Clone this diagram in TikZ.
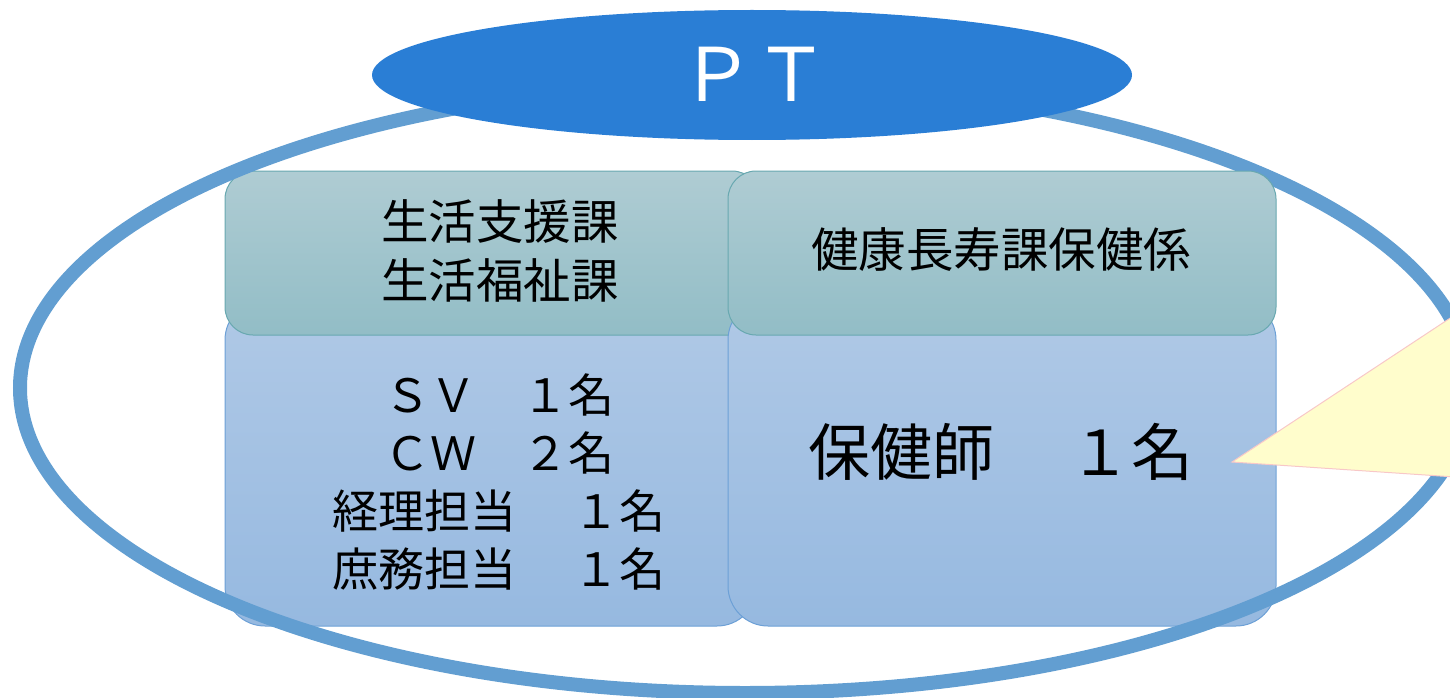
\documentclass[tikz,border=0pt]{standalone}
\usepackage{fontspec}
\setmainfont{Noto Sans CJK JP}
\usetikzlibrary{shapes.geometric}
\definecolor{ringblue}{RGB}{98,158,209}
\definecolor{ptblue}{RGB}{42,126,213}
\definecolor{hdrtop}{RGB}{175,204,211}
\definecolor{hdrbot}{RGB}{146,189,198}
\definecolor{hdrline}{RGB}{104,168,176}
\definecolor{bodytop}{RGB}{176,201,230}
\definecolor{bodybot}{RGB}{150,185,224}
\definecolor{bodyline}{RGB}{108,160,214}
\definecolor{callfill}{RGB}{255,253,204}
\definecolor{callline}{RGB}{248,200,200}
\begin{document}
\begin{tikzpicture}[x=1pt,y=-1pt,
  hdrbox/.style={rectangle, rounded corners=28pt, draw=hdrline, line width=1pt,
    top color=hdrtop, bottom color=hdrbot, minimum width=#1, minimum height=164pt, inner sep=0pt},
  bodybox/.style={rectangle, rounded corners=40pt, draw=bodyline, line width=1pt,
    top color=bodytop, bottom color=bodybot, minimum width=#1, minimum height=326pt, inner sep=0pt},
  txt/.style={inner sep=0pt, align=center, text=black}]
\useasboundingbox (0,0) rectangle (1450,698);
% body boxes
\node[bodybox=532pt] (bodyL) at (491,463) {};
\node[hdrbox=535pt] (hdrL) at (492.5,253) {};
\node[bodybox=548pt] (bodyR) at (1002,463) {};
% ring
\node[ellipse, draw=ringblue, line width=14pt, minimum width=1450pt, minimum height=610pt, inner sep=0pt] (ring) at (745,388) {};
\node[hdrbox=548pt] (hdrR) at (1002,253) {};
% PT ellipse
\node[ellipse, fill=ptblue, minimum width=760pt, minimum height=130pt, inner sep=0pt] (pt) at (752,75) {};
\node[txt, text=white, font=\fontsize{74}{88}\selectfont] (pttext) at (754,74) {ＰＴ};
% texts
\node[txt, font=\fontsize{47.5}{59}\selectfont] (hdrLtext) at (500,251) {生活支援課\\生活福祉課};
\node[txt, font=\fontsize{47.5}{59}\selectfont] (hdrRtext) at (1001,250) {健康長寿課保健係};
\node[txt, font=\fontsize{46}{58}\selectfont] (bodyLtext) at (499,482) {ＳＶ　１名\\ＣＷ　２名\\経理担当　 １名\\庶務担当　 １名};
\node[txt, font=\fontsize{62}{74}\selectfont] (bodyRtext) at (1001,452) {保健師　 １名};
% callout tail
\coordinate (tip) at (1232,462);
\filldraw[fill=callfill, draw=callline, line width=1pt] (tip) -- (1470,305) -- (1470,478) -- cycle;
\end{tikzpicture}
\end{document}
